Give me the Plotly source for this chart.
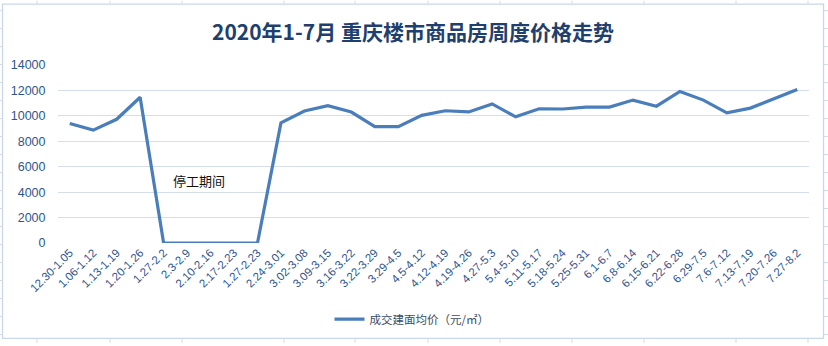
import plotly.graph_objects as go

weeks = ["12.30-1.05", "1.06-1.12", "1.13-1.19", "1.20-1.26", "1.27-2.2", "2.3-2.9",
         "2.10-2.16", "2.17-2.23", "1.27-2.23", "2.24-3.01", "3.02-3.08", "3.09-3.15",
         "3.16-3.22", "3.22-3.29", "3.29-4.5", "4.5-4.12", "4.12-4.19", "4.19-4.26",
         "4.27-5.3", "5.4-5.10", "5.11-5.17", "5.18-5.24", "5.25-5.31", "6.1-6.7",
         "6.8-6.14", "6.15-6.21", "6.22-6.28", "6.29-7.5", "7.6-7.12", "7.13-7.19",
         "7.20-7.26", "7.27-8.2"]
prices = [9400, 8880, 9730, 11460, 0, 0, 0, 0, 0, 9450, 10380, 10800,
          10300, 9150, 9150, 10040, 10400, 10310, 10940, 9920, 10550, 10540,
          10690, 10690, 11240, 10760, 11920, 11240, 10240, 10610, 11370, 12070]
series_name = "成交建面均价（元/㎡）"
title_text = "2020年1-7月 重庆楼市商品房周度价格走势"
note_text = "停工期间"

W, H = 828, 346
ML, MR, MT, MB = 58, 19, 65, 101
PW, PH = W - ML - MR, H - MT - MB

def px(x):
    return (x - ML) / PW

def py(y):
    return (H - MB - y) / PH

fig = go.Figure()
fig.add_trace(go.Scatter(
    x=weeks, y=prices, mode="lines", name=series_name,
    line=dict(color="#4a7ebb", width=3.2),
))

shapes = []
frame_col = "#c9d7ea"
grid_col = "#d3d9e3"
# spreadsheet cell lines outside the chart frame
for cx in [37, 110, 182, 284, 355, 428, 500, 572, 644, 736, 808]:
    shapes.append(dict(type="line", xref="paper", yref="paper",
                       x0=px(cx), x1=px(cx), y0=py(0), y1=py(3.5),
                       line=dict(color=grid_col, width=1)))
    shapes.append(dict(type="line", xref="paper", yref="paper",
                       x0=px(cx), x1=px(cx), y0=py(341.5), y1=py(346),
                       line=dict(color=grid_col, width=1)))
ry = 10
while ry < H:
    shapes.append(dict(type="line", xref="paper", yref="paper",
                       x0=px(0), x1=px(2.5), y0=py(ry), y1=py(ry),
                       line=dict(color=grid_col, width=1)))
    shapes.append(dict(type="line", xref="paper", yref="paper",
                       x0=px(824), x1=px(828), y0=py(ry), y1=py(ry),
                       line=dict(color=grid_col, width=1)))
    ry += 18.2
shapes.append(dict(type="rect", xref="paper", yref="paper",
                   x0=px(2.5), x1=px(823.5), y0=py(3.5), y1=py(341.5),
                   line=dict(color=frame_col, width=1.3), fillcolor="rgba(0,0,0,0)",
                   layer="below"))

fig.update_layout(
    width=W, height=H,
    margin=dict(l=ML, r=MR, t=MT, b=MB),
    paper_bgcolor="white", plot_bgcolor="white",
    font=dict(family="Liberation Sans, Noto Sans CJK SC", color="#2e5590"),
    title=dict(text="<b>" + title_text + "</b>", xref="container", x=413 / W,
               xanchor="center", y=1 - 33 / H, yanchor="middle",
               font=dict(family="Noto Sans CJK SC", size=21, color="#1f3f6e")),
    xaxis=dict(type="category", showgrid=False, zeroline=False, showline=False,
               tickangle=-45, tickfont=dict(size=11.5, color="#2e5590"),
               ticks="", range=[-0.5, len(weeks) - 0.5]),
    yaxis=dict(range=[0, 14000], dtick=2000, tickformat="d", showgrid=True,
               gridcolor="#d6deeb", gridwidth=1, zeroline=False, showline=False,
               ticks="outside", ticklen=9, tickcolor="rgba(0,0,0,0)",
               tickfont=dict(size=12.5, color="#2e5590")),
    showlegend=True,
    legend=dict(orientation="h", x=px(412), xanchor="center", y=py(322),
                yanchor="middle", font=dict(size=11.5, color="#3b4b66",
                                            family="Noto Sans CJK SC"),
                bgcolor="rgba(0,0,0,0)"),
    shapes=shapes,
    annotations=[dict(x=5.5, y=4950, xref="x", yref="y", text=note_text,
                      showarrow=False, font=dict(size=13, color="#111111",
                                                 family="Noto Sans CJK SC"))],
)

fig.write_html("out.html")
